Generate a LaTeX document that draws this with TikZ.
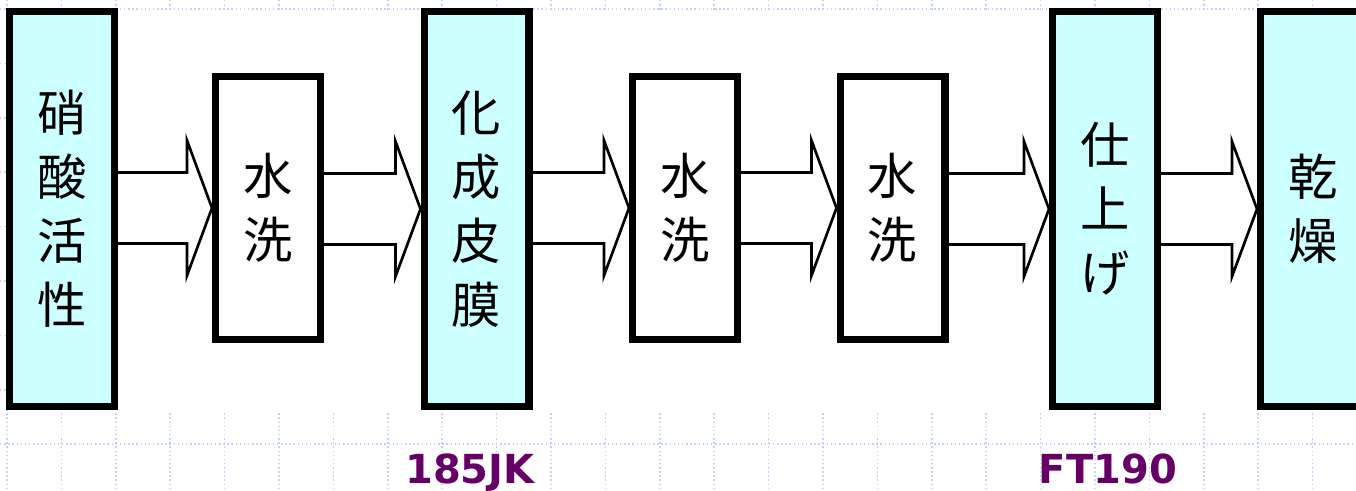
\documentclass[tikz,border=0pt]{standalone}
\usepackage{fontspec}
\newfontfamily\jpfont{Noto Sans CJK JP}
\newfontfamily\labfont{DejaVu Sans}
\usetikzlibrary{calc}

\definecolor{gridblue}{RGB}{196,208,250}
\definecolor{tankcyan}{RGB}{204,255,255}
\definecolor{labpurple}{RGB}{102,0,102}

\tikzset{
    tank/.style={draw, line width=5.6pt, minimum width=78.4pt, inner sep=0pt,
        font=\jpfont\fontsize{37}{48}\selectfont, align=center},
    bath/.style={tank, fill=tankcyan, minimum height=295.9pt},
    rinse/.style={tank, fill=white, minimum height=196.9pt},
    flow/.style={draw, line width=2pt, line join=miter},
    gridline/.style={gridblue, line width=1.1pt, dotted},
    chem/.style={labpurple, font=\labfont\bfseries\fontsize{30}{30}\selectfont, anchor=base}
}

% block arrow between two tanks
\newcommand{\flowarrow}[2]{%
    \draw[flow] ($(#1.east |- #2.west)+(0,-35.5)$) -- ($(#2.west)+(-25,-35.5)$)
        -- ($(#2.west)+(-25,-67.5)$) -- (#2.west) -- ($(#2.west)+(-25,67.5)$)
        -- ($(#2.west)+(-25,35.5)$) -- ($(#1.east |- #2.west)+(0,35.5)$);}

\begin{document}
\begin{tikzpicture}[x=0.75pt, y=-0.75pt]
    \useasboundingbox (0,0) rectangle (1356,491);
    \clip (0,0) rectangle (1356,491);
    % background grid
    \foreach \gx in {0,...,24} \draw[gridline] ({7+54.4*\gx},0) -- ({7+54.4*\gx},491);
    \foreach \gy in {0,...,8} \draw[gridline] (0,{9+54.4*\gy}) -- (1356,{9+54.4*\gy});
    \fill[white] (8,11) rectangle (1356,412);
    % process tanks
    \node[bath]  (acid)   at (62,209)    {硝\\酸\\活\\性};
    \node[rinse] (rinseA) at (268,208)   {水\\洗};
    \node[bath]  (conv)   at (476.5,209) {化\\成\\皮\\膜};
    \node[rinse] (rinseB) at (685,208)   {水\\洗};
    \node[rinse] (rinseC) at (892.5,208) {水\\洗};
    \node[bath]  (finish) at (1105,209)  {仕\\上\\げ};
    \node[bath]  (dry)    at (1313,209)  {乾\\燥};
    % flow
    \flowarrow{acid}{rinseA}
    \flowarrow{rinseA}{conv}
    \flowarrow{conv}{rinseB}
    \flowarrow{rinseB}{rinseC}
    \flowarrow{rinseC}{finish}
    \flowarrow{finish}{dry}
    % chemicals
    \node[chem] (lblJK) at (470,483)  {185JK};
    \node[chem] (lblFT) at (1108,483) {FT190};
\end{tikzpicture}
\end{document}
